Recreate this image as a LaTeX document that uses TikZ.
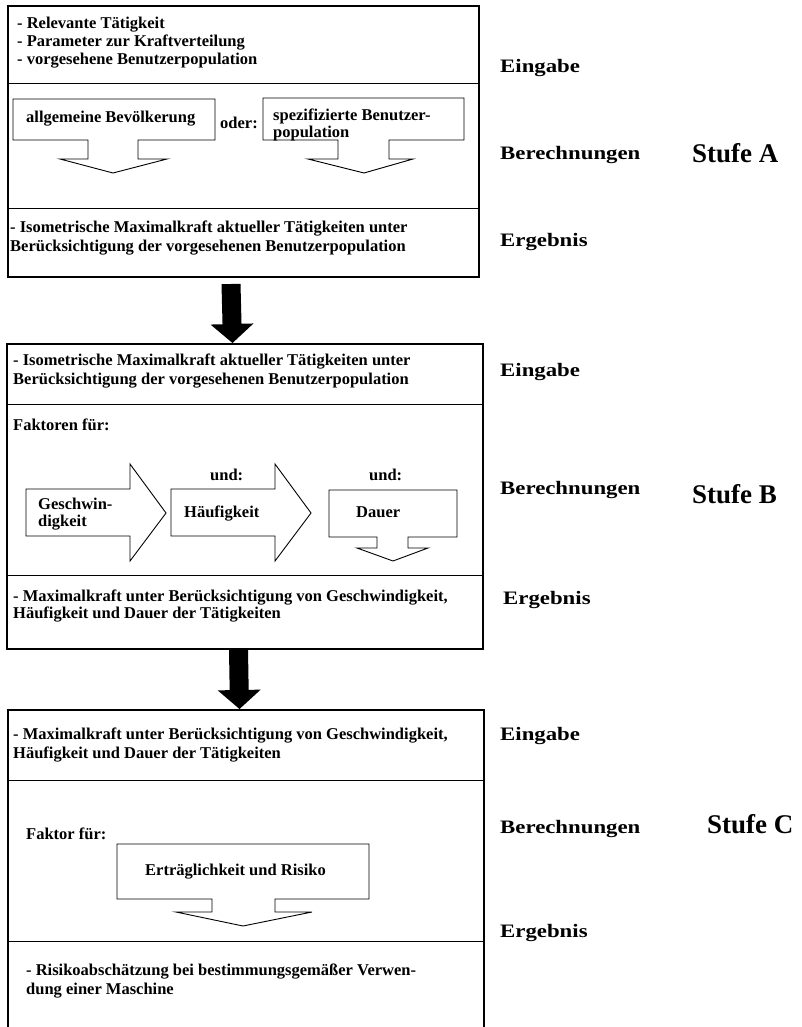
\documentclass[tikz,border=0pt]{standalone}
\usepackage{fontspec}
\setmainfont{Liberation Serif}
\newfontfamily\labelfont[FakeStretch=1.2]{Liberation Serif}
\usetikzlibrary{arrows.meta}

\begin{document}
\begin{tikzpicture}[
    x=1pt, y=-1pt,
    font=\bfseries\fontsize{16.5}{18.3}\selectfont,
    block/.style={draw=black, line width=2pt, anchor=north west, inner sep=0pt},
    divider/.style={draw=black, line width=0.9pt},
    outline/.style={draw=black, line width=0.9pt, line join=miter},
    txt/.style={anchor=base west, inner sep=0pt, align=left},
    rowlabel/.style={anchor=base west, inner sep=0pt,
        font=\labelfont\bfseries\fontsize{19}{22}\selectfont},
    stagelabel/.style={anchor=base west, inner sep=0pt,
        font=\bfseries\fontsize{27}{30}\selectfont},
    bigarrow/.style={line width=19pt, -{Triangle[length=19pt, width=43pt, line width=0pt]}}
]
\useasboundingbox (0,0) rectangle (801,1027);

% the three stages
\node[block, minimum width=471pt, minimum height=271pt] (blockA) at (7,5) {};
\node[block, minimum width=476pt, minimum height=305pt] (blockB) at (6,343) {};
\node[block, minimum width=476pt, minimum height=322pt] (blockC) at (7,709) {};

\draw[divider] (blockA.west |- 0,83) -- (blockA.east |- 0,83);
\draw[divider] (blockA.west |- 0,208) -- (blockA.east |- 0,208);
\draw[divider] (blockB.west |- 0,404) -- (blockB.east |- 0,404);
\draw[divider] (blockB.west |- 0,575) -- (blockB.east |- 0,575);
\draw[divider] (blockC.west |- 0,780) -- (blockC.east |- 0,780);
\draw[divider] (blockC.west |- 0,941) -- (blockC.east |- 0,941);

% stage A (multi-line nodes sit on their last baseline)
\node[txt] (inA) at (17,65) {- Relevante Tätigkeit\\- Parameter zur Kraftverteilung\\- vorgesehene Benutzerpopulation};
\draw[outline] (13,99) -- (215,99) -- (215,140) -- (138,140) -- (138,159) -- (167,159)
    -- (113,173) -- (60,159) -- (88,159) -- (88,140) -- (13,140) -- cycle;
\node[txt] (allg) at (26,122.5) {allgemeine Bevölkerung};
\node[txt] (oder) at (220,129) {oder:};
\draw[outline] (263,98) -- (464,98) -- (464,140) -- (389,140) -- (389,159) -- (413,159)
    -- (364,173) -- (308,159) -- (338,159) -- (338,140) -- (263,140) -- cycle;
\node[txt] (spez) at (273,138) {spezifizierte Benutzer-\\[-1pt]population};
\node[txt] (outA) at (10,251) {- Isometrische Maximalkraft aktueller Tätigkeiten unter\\Berücksichtigung der vorgesehenen Benutzerpopulation};

% stage B
\node[txt] (inB) at (13,384) {- Isometrische Maximalkraft aktueller Tätigkeiten unter\\Berücksichtigung der vorgesehenen Benutzerpopulation};
\node[txt] (fakt) at (13,430) {Faktoren für:};
\draw[outline] (26,489) -- (130,489) -- (130,464) -- (166,513) -- (130,561) -- (130,536)
    -- (26,536) -- cycle;
\node[txt] (geschw) at (38,526) {Geschwin-\\[-1.3pt]digkeit};
\node[txt] (und1) at (210,480) {und:};
\draw[outline] (171,489) -- (275,489) -- (275,464) -- (311,513) -- (275,561) -- (275,536)
    -- (171,536) -- cycle;
\node[txt] (haeuf) at (184,517) {Häufigkeit};
\node[txt] (und2) at (369,480) {und:};
\draw[outline] (329,490) -- (457,490) -- (457,537) -- (408,537) -- (408,548) -- (428,548)
    -- (393,561) -- (357,548) -- (377,548) -- (377,537) -- (329,537) -- cycle;
\node[txt] (dauer) at (356,517) {Dauer};
\node[txt] (outB) at (13,618) {- Maximalkraft unter Berücksichtigung von Geschwindigkeit,\\[-2pt]Häufigkeit und Dauer der Tätigkeiten};

% stage C
\node[txt] (inC) at (13,758) {- Maximalkraft unter Berücksichtigung von Geschwindigkeit,\\Häufigkeit und Dauer der Tätigkeiten};
\node[txt] (faktC) at (26,839) {Faktor für:};
\draw[outline] (117,844) -- (369,844) -- (369,899) -- (275,899) -- (275,912) -- (312,912)
    -- (243,926) -- (176,912) -- (212,912) -- (212,899) -- (117,899) -- cycle;
\node[txt] (ertr) at (145,875) {Erträglichkeit und Risiko};
\node[txt] (outC) at (26,994) {- Risikoabschätzung bei bestimmungsgemäßer Verwen-\\dung einer Maschine};

% labels on the right
\node[rowlabel] (eingA) at (500,73) {Eingabe};
\node[rowlabel] (berA) at (500,160) {Berechnungen};
\node[rowlabel] (ergA) at (500,246) {Ergebnis};
\node[stagelabel] (stufeA) at (692,163) {Stufe A};
\node[rowlabel] (eingB) at (500,376) {Eingabe};
\node[rowlabel] (berB) at (500,494) {Berechnungen};
\node[rowlabel] (ergB) at (503,604) {Ergebnis};
\node[stagelabel] (stufeB) at (692,503) {Stufe B};
\node[rowlabel] (eingC) at (500,740) {Eingabe};
\node[rowlabel] (berC) at (500,833) {Berechnungen};
\node[rowlabel] (ergC) at (500,937) {Ergebnis};
\node[stagelabel] (stufeC) at (707,833) {Stufe C};

% arrows between the stages
\draw[bigarrow] ([xshift=-12.5pt, yshift=-6pt]blockA.south) -- ([xshift=-12.5pt]blockB.north);
\draw[bigarrow] ([xshift=-6.5pt]blockB.south) -- ([xshift=-6.5pt]blockC.north);
\end{tikzpicture}
\end{document}
